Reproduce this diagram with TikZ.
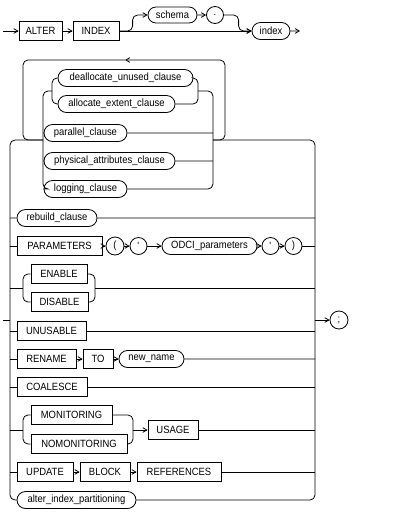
\documentclass[tikz,border=0pt]{standalone}
\usepackage{fontspec}
\setmainfont{Liberation Sans}[FakeStretch=0.9]
\usetikzlibrary{arrows}
\usetikzlibrary{shapes.misc,calc}

\begin{document}
\begin{tikzpicture}[x=1pt,y=-1pt,line width=0.8pt,>=angle 60,
	kw/.style={draw,rectangle,minimum height=19pt,inner sep=0pt,font=\fontsize{10.5}{12}\selectfont},
	nt/.style={draw,rounded rectangle,minimum height=17pt,inner sep=0pt,font=\fontsize{10.5}{12}\selectfont},
	sym/.style={draw,circle,minimum size=17pt,inner sep=0pt,font=\fontsize{10.5}{12}\selectfont},
	rail/.style={rounded corners=5pt}]
	\useasboundingbox (0,0) rectangle (402,515);
	
	% ALTER INDEX [schema .] index
	\coordinate (start) at (3,31);
	\node[kw,minimum width=43] (alter) at (40.5,31) {ALTER};
	\node[kw,minimum width=46] (indexkw) at (96,31) {INDEX};
	\node[nt,minimum width=49,minimum height=16pt] (schema) at (172.5,15) {schema};
	\node[sym] (dot) at (215,15) {.};
	\node[nt,minimum width=38] (index) at (271,31) {index};
	\coordinate (end) at (300,31);
	\draw[->] (start) -- (alter);
	\draw[->] (alter) -- (indexkw);
	\draw[->] (indexkw) -- (index);
	\draw[->,rail] (indexkw.east) -| ($(schema.west)+(-15,0)$) -- (schema.west);
	\draw[->] (schema) -- (dot);
	\draw[->,rail] (dot.east) -| ($(index.west)+(-13,0)$) -- (index.west);
	\draw[->] (index) -- (end);
	
	% columns of the big choice
	\coordinate (L) at (10,0);
	\coordinate (R) at (315,0);
	\coordinate (in) at (3,320);
	\node[sym,minimum size=18pt] (semi) at (339,320) {;};
	\draw (in) -- (L |- in);
	\draw[->] (R |- semi) -- (semi);
	
	% repeated group
	\coordinate (grpin) at (43,140);
	\coordinate (grpout) at (213,140);
	\coordinate (subin) at (52,91);
	\coordinate (subout) at (198,91);
	\coordinate (loopL) at (23,60);
	\coordinate (loopR) at (225,60);
	\coordinate (looparr) at (125,60);
	\node[nt,minimum width=135] (deall) at (125.5,78) {deallocate\_unused\_clause};
	\node[nt,minimum width=117] (alloc) at (116.5,104) {allocate\_extent\_clause};
	\node[nt,minimum width=83] (parallel) at (85.5,133) {parallel\_clause};
	\node[nt,minimum width=131] (physical) at (109.5,161) {physical\_attributes\_clause};
	\node[nt,minimum width=83] (logging) at (85.5,189) {logging\_clause};
	\draw[rail] (deall) -- (subin |- deall) -- (subin |- alloc) -- (alloc);
	\draw[rail] (deall) -- (subout |- deall) -- (subout |- alloc) -- (alloc);
	\draw[rail] (subin) -- (grpin |- subin) -- (grpin |- logging) -- (logging);
	\draw[rail] (subout) -- (grpout |- subout) -- (grpout |- logging) -- (logging);
	\draw (grpin |- parallel) -- (parallel) -- (grpout |- parallel);
	\draw (grpin |- physical) -- (physical) -- (grpout |- physical);
	\draw[->,rail] (grpout) -| (loopR) -- (looparr);
	\draw[rail] (looparr) -- (loopL) |- (grpin);
	
	% the other alternatives
	\node[nt,minimum width=80] (rebuild) at (57,218) {rebuild\_clause};
	\node[kw,minimum width=85] (params) at (59.5,246) {PARAMETERS};
	\node[sym,minimum size=18pt] (lpar) at (115,246) {(};
	\node[sym] (q1) at (138.5,246) {\textquotesingle};
	\node[nt,minimum width=95] (odci) at (209.5,246) {ODCI\_parameters};
	\node[sym] (q2) at (270.5,246) {\textquotesingle};
	\node[sym] (rpar) at (293.5,246) {)};
	\node[kw,minimum width=56] (enable) at (59,274) {ENABLE};
	\node[kw,minimum width=57] (disable) at (59.5,302) {DISABLE};
	\node[kw,minimum width=69] (unusable) at (51.5,331) {UNUSABLE};
	\node[kw,minimum width=59] (rename) at (46.5,359) {RENAME};
	\node[kw,minimum width=30] (tokw) at (98,359) {TO};
	\node[nt,minimum width=65] (newname) at (151.5,359) {new\_name};
	\node[kw,minimum width=70] (coalesce) at (52,387) {COALESCE};
	\node[kw,minimum width=81] (monitoring) at (71.5,415) {MONITORING};
	\node[kw,minimum width=96] (nomonitoring) at (79,444) {NOMONITORING};
	\node[kw,minimum width=50] (usage) at (173,430) {USAGE};
	\node[kw,minimum width=56] (update) at (45,472) {UPDATE};
	\node[kw,minimum width=50] (block) at (105,472) {BLOCK};
	\node[kw,minimum width=84] (refs) at (179,472) {REFERENCES};
	\node[nt,minimum width=119] (alterpart) at (76.5,500) {alter\_index\_partitioning};
	
	\draw[rail] (grpin) -- (L |- grpin) -- (L |- alterpart) -- (alterpart);
	\draw[rail] (grpout) -- (R |- grpout) -- (R |- alterpart) -- (alterpart);
	
	\draw (L |- rebuild) -- (rebuild) -- (R |- rebuild);
	
	\draw (L |- params) -- (params);
	\draw[->] (params) -- (lpar);
	\draw[->] (lpar) -- (q1);
	\draw[->] (q1) -- (odci);
	\draw[->] (odci) -- (q2);
	\draw[->] (q2) -- (rpar);
	\draw (rpar) -- (R |- rpar);
	
	\coordinate (edL) at (23,288);
	\coordinate (edR) at (95,288);
	\draw (L |- edL) -- (edL);
	\draw[rail] (enable) -- (edL |- enable) -- (edL |- disable) -- (disable);
	\draw[rail] (enable) -- (edR |- enable) -- (edR |- disable) -- (disable);
	\draw (edR) -- (R |- edR);
	
	\draw (L |- unusable) -- (unusable) -- (R |- unusable);
	
	\draw (L |- rename) -- (rename);
	\draw[->] (rename) -- (tokw);
	\draw[->] (tokw) -- (newname);
	\draw (newname) -- (R |- newname);
	
	\draw (L |- coalesce) -- (coalesce) -- (R |- coalesce);
	
	\coordinate (mnL) at (23,430);
	\coordinate (mnR) at (133,430);
	\draw (L |- mnL) -- (mnL);
	\draw[rail] (monitoring) -- (mnL |- monitoring) -- (mnL |- nomonitoring) -- (nomonitoring);
	\draw[rail] (monitoring) -- (mnR |- monitoring) -- (mnR |- nomonitoring) -- (nomonitoring);
	\draw[->] (mnR) -- (usage);
	\draw (usage) -- (R |- usage);
	
	\draw (L |- update) -- (update);
	\draw[->] (update) -- (block);
	\draw[->] (block) -- (refs);
	\draw (refs) -- (R |- refs);
\end{tikzpicture}
\end{document}
